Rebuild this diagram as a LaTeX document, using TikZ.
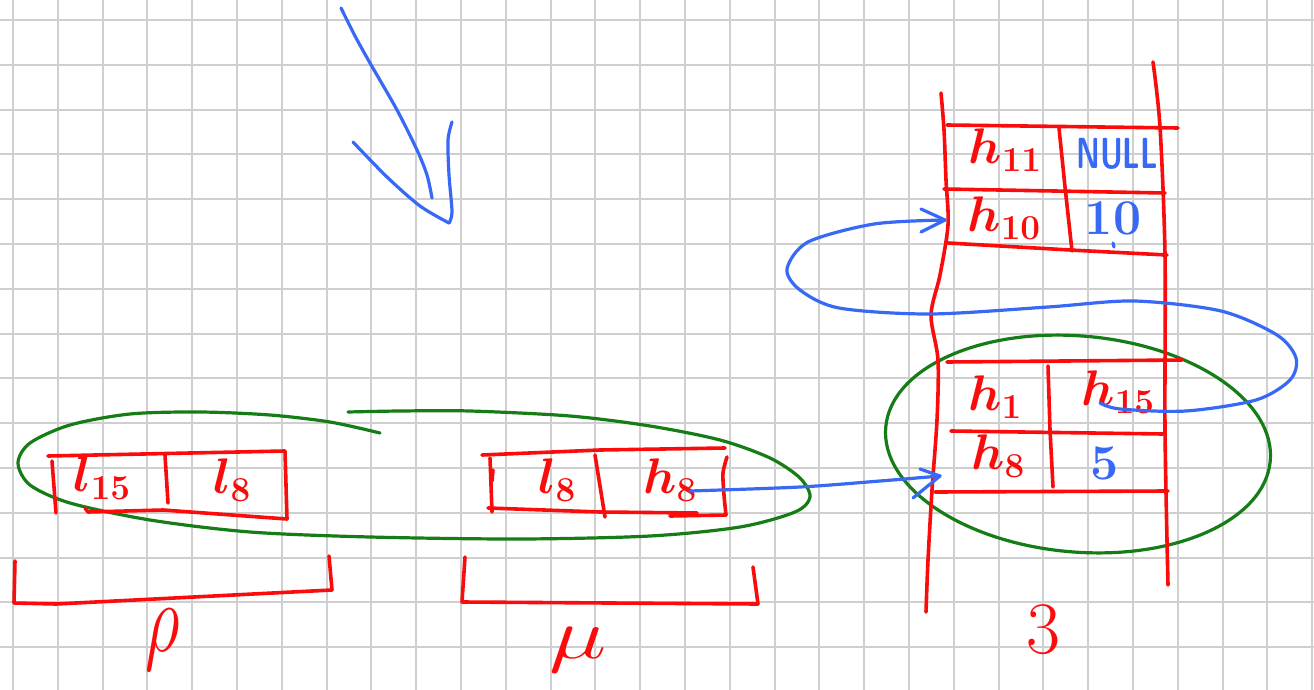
\RequirePackage{fix-cm}
\documentclass[tikz,border=0pt]{standalone}
\definecolor{inkred}{RGB}{250,12,12}
\definecolor{inkblue}{RGB}{55,105,245}
\definecolor{inkgreen}{RGB}{22,125,22}
\tikzset{
  pen/.style={line width=3.6pt, line cap=round, line join=round},
  redpen/.style={pen, draw=inkred},
  bluepen/.style={pen, draw=inkblue, line width=3.2pt},
  greenpen/.style={pen, draw=inkgreen, line width=3.2pt},
  gridline/.style={draw=black!19, line width=2pt},
  lab/.style={inner sep=0pt, font=\fontsize{50}{56}\selectfont\bfseries\boldmath},
  biglab/.style={inner sep=0pt, text=inkred},
  redlab/.style={lab, text=inkred},
  bluelab/.style={lab, text=inkblue},
}
\begin{document}
\begin{tikzpicture}[x=1pt,y=-1pt]
  % paper with square grid
  \fill[white] (0,0) rectangle (1314,690);
  \useasboundingbox (0,0) rectangle (1314,690);
  \foreach \i in {0,...,29} \draw[gridline] ({13+44.8*\i},0) -- ({13+44.8*\i},690);
  \foreach \j in {0,...,14} \draw[gridline] (0,{20+44.8*\j}) -- (1314,{20+44.8*\j});

  % big arrow pointing down to the right
  \draw[bluepen] plot[smooth] coordinates {(341,8) (355,36) (370,63) (397,110) (417,150) (427,175) (432,198)};
  \coordinate (bigtip) at (449,223);
  \draw[bluepen] plot[smooth, tension=0.5] coordinates {(353,142) (387,177) (420,206) (bigtip)};
  \draw[bluepen] plot[smooth] coordinates {(bigtip) (452,212) (449,175) (448,140) (452,122)};

  % green grouping loops
  \draw[greenpen] plot[smooth] coordinates {(380,433) (330,422) (270,415) (200,412) (130,414) (70,425) (30,443) (18,463) (30,485) (70,503) (150,520) (250,532) (370,537) (520,539) (650,536) (740,527) (795,512) (810,497) (800,478) (770,458) (720,440) (650,426) (570,416) (470,411) (400,411) (348,412)};
  \draw[greenpen, rotate around={-5:(1078,444)}] (1078,444) ellipse [x radius=193, y radius=108];

  % left record: l15 | l8
  \draw[redpen] (48,456) -- (285,451) -- (287,519);
  \draw[redpen] (85,508) -- (88,512) -- (163,510) -- (287,519);
  \draw[redpen] (52,461) -- (56,513);
  \draw[redpen] (165,455) -- (168,503);
  \node[redlab] (l15) at (102,478) {$l_{15}$};
  \node[redlab] (l8a) at (232,480) {$l_{8}$};

  % middle record: l8 | h8
  \draw[redpen] (482,455) -- (600,450) -- (725,448);
  \draw[redpen] (490,458) -- (492,512);
  \draw[redpen] (493,470) -- (492,481);
  \draw[redpen] (488,508) -- (600,512) -- (697,513);
  \draw[redpen] (595,455) -- (605,517);
  \draw[redpen] plot[smooth] coordinates {(727,457) (723,473) (724,495) (726,515)};
  \draw[redpen] (670,516) -- (726,515);
  \node[redlab] (l8b) at (557,480) {$l_{8}$};
  \node[redlab] (h8a) at (670,480) {$h_{8}$};

  % braces under the records
  \draw[redpen] (15,561) -- (14,603) -- (56,604) -- (332,590) -- (329,556);
  \draw[redpen] (465,557) -- (462,602) -- (758,604) -- (753,567);
  \node[biglab, font=\fontsize{68}{72}\selectfont] (rho) at (163,640) {\scalebox{1}[1.45]{$\rho$}};
  \node[biglab, font=\fontsize{72}{78}\selectfont] (mu) at (578,650) {\scalebox{1.35}[1]{$\mu$}};

  % table on the right
  \draw[redpen] plot[smooth] coordinates {(941,93) (944,130) (946,180) (948,225) (940,275) (931,315) (938,360) (937,420) (932,490) (928,560) (926,612)};
  \draw[redpen] plot[smooth] coordinates {(1153,62) (1160,127) (1165,255) (1165,430) (1168,585)};
  % upper entries
  \draw[redpen] (947,125) -- (1178,128);
  \draw[redpen] (944,189) -- (1165,193);
  \draw[redpen] (948,243) -- (1070,250) -- (1167,255);
  \draw[redpen] (1059,128) -- (1065,187) -- (1072,251);
  \node[redlab] (h11) at (1005,150) {$h_{11}$};
  \node[bluelab, font=\fontsize{30}{36}\selectfont\sffamily\bfseries] (null) at (1117,154) {\scalebox{1}[1.45]{NULL}};
  \node[redlab] (h10) at (1004,218) {$h_{10}$};
  \node[bluelab] (ten) at (1113,218) {10};
  \draw[bluepen] (1113,243) -- (1114,247);
  % lower entries
  \draw[redpen] (947,362) -- (1182,360);
  \draw[redpen] (951,431) -- (1163,434);
  \draw[redpen] (935,492) -- (1168,491);
  \draw[redpen] (1048,366) -- (1050,430) -- (1053,487);
  \node[redlab] (h1) at (995,397) {$h_{1}$};
  \node[redlab] (h15) at (1118,392) {$h_{15}$};
  \node[redlab] (h8b) at (998,456) {$h_{8}$};
  \node[bluelab] (five) at (1105,463) {5};
  \node[biglab, font=\fontsize{74}{80}\selectfont] (three) at (1043,630) {3};

  % pointers
  \coordinate (linkstart) at (690,491);
  \coordinate (linktip) at (940,476);
  \draw[bluepen] plot[smooth] coordinates {(linkstart) (800,487) (880,481) (linktip)};
  \draw[bluepen] ([shift={(-20,-7)}]linktip) -- (linktip) -- ([shift={(-27,22)}]linktip);

  \coordinate (loopstart) at (1100,403);
  \coordinate (looptip) at (945,220);
  \draw[bluepen] plot[smooth] coordinates {(loopstart) (1120,409) (1186,411) (1256,400) (1290,380) (1296,358) (1277,335) (1221,311) (1134,301) (1048,307) (930,314) (839,308) (800,290) (787,269) (808,242) (874,224) (looptip)};
  \draw[bluepen] ([shift={(-24,-11)}]looptip) -- (looptip) -- ([shift={(-24,12)}]looptip);
\end{tikzpicture}
\end{document}
